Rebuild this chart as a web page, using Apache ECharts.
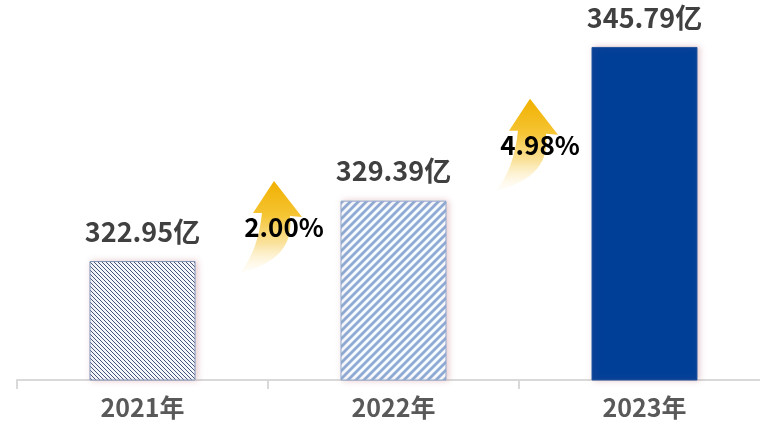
<!DOCTYPE html>
<html>
<head>
<meta charset="utf-8">
<script src="https://cdn.jsdelivr.net/npm/echarts@6/dist/echarts.min.js"></script>
<style>
html,body{margin:0;padding:0;background:#fff;overflow:hidden;}
#chart{width:770px;height:427px;}
</style>
</head>
<body>
<div id="chart"></div>
<script>
// ---- data ----
const categories = ['2021年', '2022年', '2023年'];
const revenue = [322.95, 329.39, 345.79];
const growthLabels = ['2.00%', '4.98%'];
const unit = '亿';

// ---- patterns ----
function backslashPattern() {
  const c = document.createElement('canvas');
  c.width = 4; c.height = 4;
  const g = c.getContext('2d');
  g.fillStyle = '#f4f8fd';
  g.fillRect(0, 0, 4, 4);
  g.strokeStyle = '#45557a';
  g.lineWidth = 1;
  g.beginPath();
  g.moveTo(-1, -1); g.lineTo(5, 5);
  g.moveTo(-1, 3); g.lineTo(1, 5);
  g.moveTo(3, -1); g.lineTo(5, 1);
  g.stroke();
  return c;
}
function slashPattern() {
  const c = document.createElement('canvas');
  c.width = 8; c.height = 8;
  const g = c.getContext('2d');
  g.fillStyle = '#f8fbfd';
  g.fillRect(0, 0, 8, 8);
  g.strokeStyle = '#8eabd6';
  g.lineWidth = 2.8;
  g.beginPath();
  g.moveTo(-1, 9); g.lineTo(9, -1);
  g.moveTo(-1, 1); g.lineTo(1, -1);
  g.moveTo(7, 9); g.lineTo(9, 7);
  g.stroke();
  return c;
}

const barStyles = [
  { color: { image: backslashPattern(), repeat: 'repeat' }, borderColor: '#8195b9' },
  { color: { image: slashPattern(), repeat: 'repeat' }, borderColor: '#8ea8cc' },
  { color: '#003f98', borderColor: '#24549e' }
];

const arrowPath = 'M0,0 L28,36 L16,35 C18,55 14,80 -34,92 Q-16,70 -12,32 L-21,32 Z';
const arrowTipDx = [6, 11];
const arrowTailDy = [12, -10];

const chart = echarts.init(document.getElementById('chart'), null, { renderer: 'canvas' });
const font = '"Noto Sans CJK SC", "Microsoft YaHei", sans-serif';

chart.setOption({
  backgroundColor: '#ffffff',
  animation: false,
  grid: { left: 17, top: 0, right: 0, bottom: 47, containLabel: false },
  xAxis: {
    type: 'category',
    data: categories,
    axisLine: { show: true, lineStyle: { color: '#d9d9d9', width: 2 } },
    axisTick: { show: true, length: 9, lineStyle: { color: '#d9d9d9', width: 2 } },
    axisLabel: { color: '#595959', fontSize: 25, fontWeight: 'bold', fontFamily: font, margin: 15 }
  },
  yAxis: { type: 'value', min: 310.25, max: 350.8, show: false, splitLine: { show: false } },
  series: [
    {
      type: 'bar',
      barWidth: 106,
      data: revenue.map((v, i) => ({
        value: v,
        itemStyle: Object.assign({
          borderWidth: 1,
          shadowColor: 'rgba(190,110,120,0.35)',
          shadowBlur: 6,
          shadowOffsetX: 2,
          shadowOffsetY: 0
        }, barStyles[i])
      })),
      label: {
        show: true,
        position: 'top',
        distance: 16,
        formatter: p => p.value + unit,
        color: '#404040',
        fontSize: 27,
        fontWeight: 'bold',
        fontFamily: font
      }
    },
    {
      type: 'custom',
      data: growthLabels.map((t, i) => [i, t]),
      z: 5,
      renderItem: function (params, api) {
        const i = api.value(0);
        const a = api.coord([i, revenue[i]]);
        const b = api.coord([i + 1, revenue[i + 1]]);
        const tipX = (a[0] + b[0]) / 2 + arrowTipDx[i];
        const tailY = a[1] + arrowTailDy[i];
        const tipY = tailY - 92;
        return {
          type: 'group',
          children: [
            {
              type: 'path',
              shape: { pathData: arrowPath, x: tipX - 34, y: tipY, width: 62, height: 92, layout: 'cover' },
              style: {
                fill: new echarts.graphic.LinearGradient(0, 0, 0, 1, [
                  { offset: 0, color: '#f1b000' },
                  { offset: 0.38, color: '#f5c534' },
                  { offset: 0.68, color: 'rgba(249,221,140,0.85)' },
                  { offset: 1, color: 'rgba(255,248,230,0.2)' }
                ])
              }
            },
            {
              type: 'text',
              style: {
                text: growthLabels[i],
                x: tipX + 10,
                y: tipY + 46,
                align: 'center',
                verticalAlign: 'middle',
                fill: '#000000',
                font: 'bold 26px ' + font
              }
            }
          ]
        };
      }
    }
  ]
});
</script>
</body>
</html>
